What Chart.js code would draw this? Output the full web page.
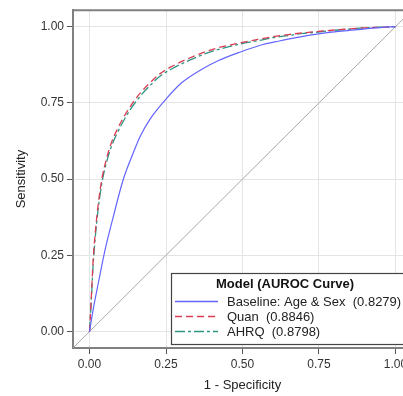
<!DOCTYPE html>
<html>
<head>
<meta charset="utf-8">
<script src="https://cdn.jsdelivr.net/npm/chart.js@4.4.1/dist/chart.umd.min.js"></script>
<style>
  html, body { margin: 0; padding: 0; background: #fff; overflow: hidden; }
  canvas { display: block; }
</style>
</head>
<body>
<canvas id="roc" width="420" height="396"></canvas>
<script>
// ROC curves (1 - specificity, sensitivity)
const quanFpr = [0, 0.005, 0.012, 0.024, 0.040, 0.055, 0.070, 0.090, 0.110, 0.133, 0.165, 0.200, 0.231, 0.270, 0.329, 0.400, 0.493, 0.550, 0.600, 0.650, 0.700, 0.754, 0.800, 0.850, 0.900, 0.950, 1.0];
const quanTpr = [0, 0.095, 0.236, 0.378, 0.498, 0.565, 0.615, 0.662, 0.700, 0.738, 0.781, 0.818, 0.846, 0.870, 0.898, 0.925, 0.947, 0.958, 0.967, 0.974, 0.980, 0.985, 0.989, 0.993, 0.996, 0.998, 1.0];

const ahrqFpr = quanFpr;
const ahrqTpr = [0, 0.085, 0.221, 0.363, 0.485, 0.553, 0.603, 0.650, 0.689, 0.728, 0.771, 0.809, 0.838, 0.862, 0.891, 0.919, 0.943, 0.954, 0.964, 0.971, 0.978, 0.983, 0.988, 0.992, 0.996, 0.998, 1.0];

const baseFpr = [0, 0.012, 0.029, 0.051, 0.078, 0.110, 0.147, 0.165, 0.200, 0.247, 0.300, 0.362, 0.420, 0.493, 0.558, 0.620, 0.680, 0.754, 0.800, 0.850, 0.900, 0.950, 1.0];
const baseTpr = [0, 0.073, 0.160, 0.269, 0.378, 0.498, 0.596, 0.639, 0.700, 0.759, 0.815, 0.857, 0.888, 0.917, 0.939, 0.953, 0.965, 0.977, 0.983, 0.988, 0.993, 0.997, 1.0];

const modelNames = ['Baseline: Age & Sex  (0.8279)', 'Quan  (0.8846)', 'AHRQ  (0.8798)'];
const tickValues = [0, 0.25, 0.5, 0.75, 1];
const axisMin = -0.054;
const axisMax = 1.054;

function toPoints(xs, ys) {
    return xs.map((x, i) => ({x: x, y: ys[i]}));
}

const fontFamily = '"Liberation Sans", Arial, sans-serif';

// legend box with title, drawn inside the plot
const legendBox = {
    id: 'legendBox',
    afterDatasetsDraw(chart) {
        const ctx = chart.ctx;
        const left = 171.5, top = 273.5, right = 440, bottom = 344.5;
        ctx.save();
        ctx.fillStyle = '#fff';
        ctx.fillRect(left, top, right - left, bottom - top);
        ctx.strokeStyle = '#444';
        ctx.lineWidth = 1.2;
        ctx.strokeRect(left, top, right - left, bottom - top);

        ctx.fillStyle = '#111';
        ctx.font = 'bold 13px ' + fontFamily;
        ctx.textAlign = 'center';
        ctx.textBaseline = 'middle';
        ctx.fillText('Model (AUROC Curve)', 285, 284);

        ctx.font = '13px ' + fontFamily;
        ctx.textAlign = 'left';
        const rows = [301.5, 316.5, 331.5];
        chart.data.datasets.slice(0, 3).forEach((ds, i) => {
            ctx.strokeStyle = ds.borderColor;
            ctx.lineWidth = 1.3;
            ctx.setLineDash(ds.borderDash || []);
            ctx.beginPath();
            ctx.moveTo(175, rows[i]);
            ctx.lineTo(218, rows[i]);
            ctx.stroke();
            ctx.setLineDash([]);
            ctx.fillStyle = '#222';
            ctx.fillText(ds.label, 227, rows[i] + 0.5);
        });
        ctx.restore();
    },
    afterDraw(chart) {
        // top and right frame lines
        const a = chart.chartArea;
        const ctx = chart.ctx;
        ctx.save();
        ctx.strokeStyle = '#808080';
        ctx.lineWidth = 2;
        ctx.beginPath();
        ctx.moveTo(a.left, a.top);
        ctx.lineTo(a.right, a.top);
        ctx.lineTo(a.right, a.bottom);
        ctx.stroke();
        ctx.restore();
    }
};

new Chart(document.getElementById('roc'), {
    type: 'line',
    data: {
        datasets: [
            {
                label: modelNames[0],
                data: toPoints(baseFpr, baseTpr),
                borderColor: '#6464ff',
                borderWidth: 1.2,
                pointRadius: 0,
                cubicInterpolationMode: 'monotone'
            },
            {
                label: modelNames[1],
                data: toPoints(quanFpr, quanTpr),
                borderColor: '#d93d52',
                borderWidth: 1.3,
                borderDash: [7, 4],
                pointRadius: 0,
                cubicInterpolationMode: 'monotone'
            },
            {
                label: modelNames[2],
                data: toPoints(ahrqFpr, ahrqTpr),
                borderColor: '#2e9484',
                borderWidth: 1.3,
                borderDash: [10, 3, 3, 3],
                pointRadius: 0,
                cubicInterpolationMode: 'monotone'
            },
            {
                label: 'reference',
                data: [{x: -0.1, y: -0.1}, {x: 1.1, y: 1.1}],
                borderColor: '#a8a8a8',
                borderWidth: 1,
                pointRadius: 0,
                order: 10
            }
        ]
    },
    options: {
        responsive: false,
        animation: false,
        layout: {padding: {top: 9, right: 8, left: 0, bottom: 0}},
        plugins: {
            legend: {display: false},
            tooltip: {enabled: false}
        },
        scales: {
            x: {
                type: 'linear',
                min: axisMin,
                max: axisMax,
                afterBuildTicks: (scale) => { scale.ticks = tickValues.map(v => ({value: v})); },
                afterFit: (scale) => { scale.height = 48; },
                ticks: {
                    color: '#333',
                    font: {family: fontFamily, size: 12},
                    padding: 3,
                    maxRotation: 0,
                    callback: (v) => Number(v).toFixed(2)
                },
                grid: {color: '#e4e4e4', tickColor: '#555', tickLength: 6},
                border: {color: '#808080', width: 2},
                title: {
                    display: true,
                    text: '1 - Specificity',
                    color: '#222',
                    font: {family: fontFamily, size: 13},
                    padding: {top: 0, bottom: 3}
                }
            },
            y: {
                type: 'linear',
                min: axisMin,
                max: axisMax,
                afterBuildTicks: (scale) => { scale.ticks = tickValues.map(v => ({value: v})); },
                afterFit: (scale) => { scale.width = 73; },
                ticks: {
                    color: '#333',
                    font: {family: fontFamily, size: 12},
                    padding: 3,
                    callback: (v) => Number(v).toFixed(2)
                },
                grid: {color: '#e4e4e4', tickColor: '#555', tickLength: 6},
                border: {color: '#808080', width: 2},
                title: {
                    display: true,
                    text: 'Sensitivity',
                    color: '#222',
                    font: {family: fontFamily, size: 13},
                    padding: {top: 14, bottom: 0}
                }
            }
        }
    },
    plugins: [legendBox]
});
</script>
</body>
</html>
